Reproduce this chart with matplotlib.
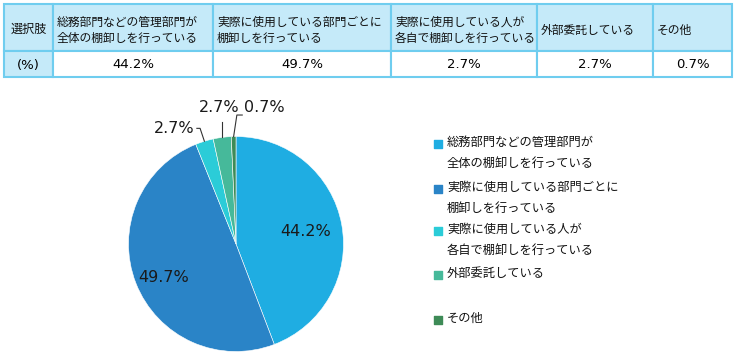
import matplotlib.pyplot as plt
import numpy as np

plt.rcParams['font.family'] = ['Noto Sans CJK JP', 'DejaVu Sans']

categories = ["総務部門などの管理部門が\n全体の棚卸しを行っている",
              "実際に使用している部門ごとに\n棚卸しを行っている",
              "実際に使用している人が\n各自で棚卸しを行っている",
              "外部委託している",
              "その他"]
values = [44.2, 49.7, 2.7, 2.7, 0.7]
colors = ["#1fade2", "#2a84c7", "#2bccd8", "#46b99a", "#3e8b57"]
header_first = "選択肢"
row_first = "(%)"

W, H = 737, 359
fig = plt.figure(figsize=(W / 100, H / 100), dpi=100)

# overlay axes in pixel coords for table and legend
ov = fig.add_axes([0, 0, 1, 1])
ov.set_xlim(0, W)
ov.set_ylim(H, 0)
ov.axis("off")

col_edges = [4, 53, 213, 391, 537, 653, 732]
row_edges = [4, 51, 77]
head_bg = "#c5eaf9"
border = "#6fcdef"
num_font = "DejaVu Sans"

for i in range(len(col_edges) - 1):
    x0, x1 = col_edges[i], col_edges[i + 1]
    for r in range(2):
        y0, y1 = row_edges[r], row_edges[r + 1]
        fc = head_bg if (r == 0 or i == 0) else "white"
        ov.add_patch(plt.Rectangle((x0, y0), x1 - x0, y1 - y0, facecolor=fc,
                                   edgecolor=border, linewidth=1.5))
    ymid_h = (row_edges[0] + row_edges[1]) / 2 + 3
    ymid_v = (row_edges[1] + row_edges[2]) / 2 + 1
    if i == 0:
        ov.text((x0 + x1) / 2, ymid_h - 1, header_first, ha="center", va="center",
                fontsize=8.7, color="#111111")
        ov.text((x0 + x1) / 2, ymid_v, row_first, ha="center", va="center", fontsize=9.5,
                family=num_font)
    else:
        ov.text(x0 + 4, ymid_h, categories[i - 1], ha="left", va="center", fontsize=8.5,
                linespacing=1.3, color="#111111")
        ov.text((x0 + x1) / 2, ymid_v, f"{values[i - 1]}%", ha="center", va="center",
                fontsize=9.5, family=num_font)

# legend
leg_y = [144, 189, 231, 275, 320]
for c, lab, y in zip(colors, categories, leg_y):
    ov.scatter([438], [y], marker="s", s=30, color=c)
    ov.text(447, y - 8, lab, ha="left", va="top", fontsize=8.8, linespacing=1.8,
            color="#111111")

# pie
cx, cy, R = 236, 244, 107.5
ax = fig.add_axes([(cx - R) / W, (H - cy - R) / H, 2 * R / W, 2 * R / H])
wedges, _ = ax.pie(values, colors=colors, startangle=90, counterclock=False,
                   wedgeprops=dict(edgecolor="white", linewidth=0.4))
ax.set_xlim(-1, 1)
ax.set_ylim(-1, 1)
ax.set_aspect("equal")
ax.axis("off")

mids = []
for w in wedges:
    mids.append(np.deg2rad((w.theta1 + w.theta2) / 2))

fs = 11.5
tc = "#1a1a1a"
# large slices, labels inside
ax.text(0.66 * np.cos(mids[0]), 0.66 * np.sin(mids[0]), f"{values[0]}%",
        ha="center", va="center", fontsize=fs, color=tc, family=num_font)
ax.text(0.72 * np.cos(mids[1]), 0.72 * np.sin(mids[1]) - 0.05, f"{values[1]}%",
        ha="center", va="center", fontsize=fs, color=tc, family=num_font)

lc = "#333333"
# cyan slice
px, py = np.cos(mids[2]), np.sin(mids[2])
ax.plot([px, px - 0.04, px - 0.07], [py, py + 0.12, py + 0.12], color=lc, lw=0.8,
        clip_on=False)
ax.text(px - 0.09, py + 0.12, f"{values[2]}%", ha="right", va="center",
        fontsize=fs, color=tc, family=num_font, clip_on=False)
# green slice
px, py = np.cos(mids[3]), np.sin(mids[3])
ax.plot([px, px], [py, py + 0.14], color=lc, lw=0.8, clip_on=False)
ax.text(px - 0.03, py + 0.28, f"{values[3]}%", ha="center", va="center",
        fontsize=fs, color=tc, family=num_font, clip_on=False)
# other slice
px, py = np.cos(mids[4]), np.sin(mids[4])
ax.plot([px, px + 0.03, px + 0.08], [py, py + 0.2, py + 0.2], color=lc, lw=0.8,
        clip_on=False)
ax.text(px + 0.1, py + 0.27, f"{values[4]}%", ha="left", va="center",
        fontsize=fs, color=tc, family=num_font, clip_on=False)

fig.savefig("out.png", dpi=100, facecolor="white")
